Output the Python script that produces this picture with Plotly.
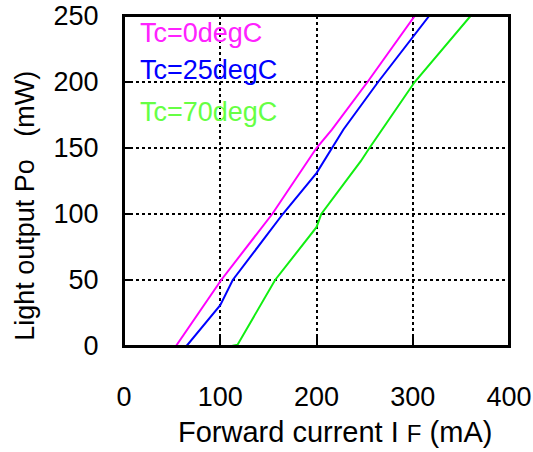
import plotly.graph_objects as go

# Data
if_0 = [54, 101, 154, 200, 216, 253, 302]
po_0 = [0, 50, 100, 150, 164, 200, 250]

if_25 = [65, 100, 113, 165, 200, 216, 228, 264, 317]
po_25 = [0, 31, 50, 100, 131, 150, 164, 200, 250]

if_70 = [112, 118, 157, 200, 205, 246, 255, 302, 360]
po_70 = [0, 1, 50, 90, 100, 140, 150, 200, 250]

series = [
    ("Tc=0degC", if_0, po_0, "#ff00ff", "#ff22ff"),
    ("Tc=25degC", if_25, po_25, "#0000ff", "#0000ff"),
    ("Tc=70degC", if_70, po_70, "#11ee11", "#66ff44"),
]

x_ticks = [0, 100, 200, 300, 400]
y_ticks = [0, 50, 100, 150, 200, 250]

FONT = "Liberation Sans, Arial, sans-serif"

fig = go.Figure()
for name, xs, ys, lc, tc in series:
    fig.add_trace(go.Scatter(x=xs, y=ys, mode="lines", name=name,
                             line=dict(color=lc, width=2), showlegend=False,
                             hoverinfo="skip"))

# Legend-like labels
label_y = [0.95, 0.837, 0.708]
for (name, xs, ys, lc, tc), ly in zip(series, label_y):
    fig.add_annotation(x=0.036, y=ly, xref="paper", yref="paper", text=name,
                       showarrow=False, xanchor="left", yanchor="middle",
                       font=dict(family=FONT, size=27, color=tc))

fig.add_annotation(x=0.548, y=-0.26, xref="paper", yref="paper",
                   text="Forward current I <span style='font-size:24px'>F</span> (mA)",
                   showarrow=False, xanchor="center", yanchor="middle",
                   font=dict(family=FONT, size=29, color="black"))
fig.add_annotation(x=-0.257, y=0.425, xref="paper", yref="paper",
                   text="Light output Po\u00a0\u00a0\u00a0(mW)", textangle=-90,
                   showarrow=False, xanchor="center", yanchor="middle",
                   font=dict(family=FONT, size=27, color="black"))

# plot frame
fig.add_shape(type="rect", xref="paper", yref="paper", x0=0, y0=0, x1=1, y1=1,
              line=dict(color="black", width=2), layer="above")

axis_common = dict(
    showline=True, linecolor="black", linewidth=2, mirror=True,
    ticks="inside", tickcolor="black", tickwidth=2, ticklen=9,
    showgrid=True, gridcolor="black", gridwidth=1.5, griddash="dot",
    zeroline=False, automargin=False, ticklabeloverflow="allow",
    tickfont=dict(family=FONT, size=27, color="black"),
)

fig.update_xaxes(range=[0, 400], tickvals=x_ticks, ticklabelstandoff=26, **axis_common)
fig.update_yaxes(range=[0, 250], tickvals=y_ticks, ticklabelstandoff=18, **axis_common)

fig.update_layout(
    width=533, height=452,
    margin=dict(l=124, r=24, t=16, b=106),
    paper_bgcolor="white", plot_bgcolor="white",
    font=dict(family=FONT),
    hovermode=False,
)

fig.write_html("out.html", config={"displayModeBar": False},
               post_script="document.body.style.margin='0px';")
